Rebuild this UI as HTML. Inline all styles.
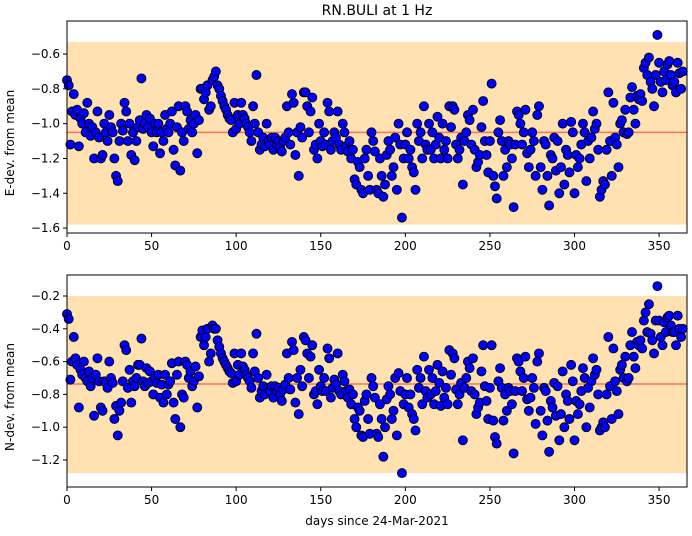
<!DOCTYPE html>
<html><head><meta charset="utf-8"><style>
body{margin:0;background:#fff}
svg text{font-family:"DejaVu Sans","Liberation Sans",sans-serif;font-size:12px;fill:#000}
</style></head><body>
<svg id="c" width="692" height="531" xmlns="http://www.w3.org/2000/svg">
<text x="377" y="15" text-anchor="middle" style="font-size:14px">RN.BULI at 1 Hz</text>
<text transform="translate(14,143) rotate(-90)" text-anchor="middle">E-dev. from mean</text>
<text transform="translate(14,397) rotate(-90)" text-anchor="middle">N-dev. from mean</text>
<text x="377" y="525" text-anchor="middle">days since 24-Mar-2021</text>
</svg>
<script>
const xTicks=[0,50,100,150,200,250,300,350];
const eTicks=[-1.6,-1.4,-1.2,-1.0,-0.8,-0.6];
const nTicks=[-1.2,-1.0,-0.8,-0.6,-0.4,-0.2];
const eMean=-1.05, eBand=[-1.58,-0.53];
const nMean=-0.737, nBand=[-1.28,-0.2];
const eVals=[-0.75,-0.78,-1.12,-0.93,-0.83,-0.95,-0.92,-1.13,-0.97,-1.0,
-0.94,-1.05,-0.88,-1.0,-1.07,-1.02,-1.2,-1.05,-0.93,-1.08,
-1.2,-1.18,-1.0,-1.05,-1.1,-0.95,-1.02,-1.05,-1.2,-1.3,
-1.33,-1.1,-1.0,-1.04,-0.88,-0.93,-1.1,-1.0,-1.18,-1.05,
-1.21,-1.1,-1.02,-0.98,-0.74,-1.03,-1.0,-0.95,-1.02,-0.97,
-1.05,-1.13,-1.0,-1.05,-1.0,-1.17,-1.05,-1.1,-0.95,-1.03,
-1.05,-1.0,-0.93,-1.15,-1.24,-1.02,-0.9,-1.27,-1.05,-1.1,
-0.9,-0.93,-1.03,-0.98,-1.05,-1.0,-0.95,-1.17,-0.98,-0.8,
-0.8,-0.86,-0.82,-0.78,-0.92,-0.9,-0.75,-0.73,-0.7,-0.78,
-0.8,-0.84,-0.87,-0.9,-0.92,-0.95,-0.97,-0.98,-1.05,-0.88,
-1.03,-0.95,-1.0,-0.88,-0.95,-0.97,-1.0,-1.02,-1.05,-1.1,
-0.9,-1.0,-0.72,-1.05,-1.15,-1.12,-1.08,-1.13,-1.0,-1.1,
-1.12,-1.08,-1.15,-1.08,-1.12,-1.1,-1.14,-1.16,-1.1,-1.08,
-0.9,-1.05,-1.12,-0.83,-0.88,-1.18,-1.05,-1.3,-1.02,-1.08,
-0.82,-0.82,-0.9,-1.05,-0.93,-0.85,-1.15,-1.12,-1.2,-1.0,
-1.1,-1.13,-1.05,-1.12,-0.88,-0.93,-1.15,-1.1,-1.05,-1.08,
-0.93,-1.12,-1.15,-1.0,-1.05,-1.13,-1.16,-1.1,-1.2,-1.15,
-1.32,-1.35,-1.22,-1.25,-1.38,-1.4,-1.2,-1.15,-1.3,-1.38,
-1.05,-1.1,-1.16,-1.38,-1.4,-1.2,-1.3,-1.42,-1.35,-1.18,
-1.1,-1.15,-1.3,-1.25,-1.08,-1.38,-1.0,-1.12,-1.54,-1.2,
-1.12,-1.05,-1.2,-1.15,-1.25,-1.28,-1.38,-1.0,-1.1,-1.05,
-1.2,-0.9,-1.12,-1.15,-1.0,-1.15,-1.05,-1.2,-1.12,-0.96,
-1.08,-1.2,-1.0,-1.15,-1.1,-1.2,-0.9,-1.02,-0.9,-0.92,
-1.12,-1.2,-1.15,-1.08,-1.35,-1.1,-1.05,-0.95,-0.98,-1.12,
-0.92,-1.15,-1.25,-1.22,-1.18,-1.02,-0.87,-1.1,-1.18,-1.28,
-1.1,-0.77,-1.3,-1.36,-1.43,-1.05,-0.98,-1.1,-1.3,-1.15,
-1.25,-1.1,-1.12,-1.2,-1.48,-1.12,-0.93,-0.95,-1.0,-1.12,
-1.05,-0.92,-1.17,-1.25,-1.15,-1.05,-1.1,-1.3,-0.95,-0.9,
-1.25,-1.38,-1.1,-1.12,-1.3,-1.47,-1.18,-1.2,-1.08,-1.27,
-1.1,-1.4,-1.25,-1.0,-1.35,-1.15,-1.18,-1.28,-0.99,-1.05,
-1.4,-1.18,-1.25,-1.2,-1.12,-1.0,-1.05,-1.33,-1.1,-1.2,
-1.08,-0.93,-1.03,-1.0,-1.15,-1.42,-1.38,-1.33,-1.35,-1.15,
-0.82,-1.1,-1.3,-0.88,-1.08,-1.12,-1.25,-1.0,-0.98,-1.05,
-0.92,-1.06,-1.05,-0.85,-0.79,-0.92,-1.0,-0.84,-0.86,-0.83,
-0.87,-0.68,-0.65,-0.72,-0.62,-0.76,-0.8,-0.9,-0.72,-0.49,
-0.65,-0.76,-0.82,-0.7,-0.75,-0.66,-0.64,-0.72,-0.78,-0.76,
-0.82,-0.65,-0.71,-0.8,-0.7];
const nVals=[-0.31,-0.34,-0.71,-0.6,-0.45,-0.58,-0.62,-0.88,-0.65,-0.68,
-0.6,-0.7,-0.72,-0.66,-0.75,-0.7,-0.93,-0.68,-0.58,-0.72,
-0.88,-0.9,-0.72,-0.73,-0.76,-0.6,-0.7,-0.73,-0.95,-0.87,
-1.05,-0.9,-0.85,-0.72,-0.5,-0.53,-0.76,-0.65,-0.85,-0.72,
-0.75,-0.7,-0.62,-0.62,-0.46,-0.72,-0.75,-0.64,-0.73,-0.66,
-0.72,-0.8,-0.7,-0.73,-0.68,-0.82,-0.74,-0.85,-0.68,-0.8,
-0.74,-0.72,-0.61,-0.85,-0.95,-0.68,-0.6,-1.0,-0.8,-0.82,
-0.6,-0.62,-0.7,-0.66,-0.75,-0.72,-0.63,-0.88,-0.69,-0.45,
-0.41,-0.5,-0.45,-0.4,-0.6,-0.55,-0.38,-0.4,-0.4,-0.47,
-0.51,-0.55,-0.58,-0.6,-0.62,-0.64,-0.66,-0.67,-0.73,-0.55,
-0.72,-0.62,-0.68,-0.55,-0.63,-0.65,-0.68,-0.7,-0.72,-0.76,
-0.55,-0.66,-0.43,-0.7,-0.82,-0.78,-0.75,-0.8,-0.68,-0.76,
-0.78,-0.75,-0.82,-0.75,-0.78,-0.76,-0.8,-0.84,-0.77,-0.74,
-0.55,-0.7,-0.77,-0.48,-0.53,-0.85,-0.7,-0.92,-0.65,-0.75,
-0.45,-0.47,-0.55,-0.7,-0.57,-0.5,-0.8,-0.78,-0.86,-0.65,
-0.75,-0.78,-0.7,-0.78,-0.52,-0.58,-0.82,-0.76,-0.71,-0.74,
-0.55,-0.78,-0.8,-0.68,-0.72,-0.78,-0.82,-0.77,-0.86,-0.8,
-0.95,-1.0,-0.88,-0.9,-1.05,-1.06,-0.84,-0.8,-0.95,-1.04,
-0.7,-0.75,-0.82,-1.04,-1.06,-0.86,-0.95,-1.18,-1.0,-0.83,
-0.75,-0.8,-0.95,-0.9,-0.7,-1.05,-0.67,-0.78,-1.28,-0.86,
-0.8,-0.7,-0.88,-0.8,-0.92,-0.95,-1.02,-0.65,-0.76,-0.7,
-0.86,-0.57,-0.78,-0.82,-0.65,-0.8,-0.7,-0.86,-0.78,-0.62,
-0.73,-0.87,-0.66,-0.82,-0.76,-0.86,-0.53,-0.68,-0.55,-0.58,
-0.77,-0.86,-0.8,-0.73,-1.08,-0.76,-0.7,-0.6,-0.64,-0.78,
-0.58,-0.8,-0.92,-0.88,-0.85,-0.66,-0.5,-0.75,-0.84,-0.95,
-0.76,-0.5,-0.96,-1.06,-1.1,-0.72,-0.64,-0.76,-0.96,-0.8,
-0.9,-0.76,-0.78,-0.86,-1.16,-0.78,-0.58,-0.6,-0.66,-0.78,
-0.7,-0.57,-0.83,-0.9,-0.82,-0.7,-0.76,-0.98,-0.6,-0.55,
-0.9,-1.05,-0.76,-0.78,-0.96,-1.15,-0.84,-0.88,-0.73,-0.93,
-0.75,-1.08,-0.92,-0.66,-1.0,-0.8,-0.84,-0.95,-0.62,-0.72,
-1.08,-0.84,-0.92,-0.86,-0.78,-0.64,-0.7,-1.0,-0.76,-0.88,
-0.72,-0.58,-0.68,-0.65,-0.8,-1.02,-1.0,-0.97,-1.0,-0.8,
-0.45,-0.75,-0.95,-0.52,-0.72,-0.78,-0.92,-0.65,-0.62,-0.7,
-0.57,-0.72,-0.7,-0.5,-0.42,-0.57,-0.64,-0.48,-0.5,-0.47,
-0.52,-0.35,-0.3,-0.42,-0.25,-0.43,-0.47,-0.55,-0.35,-0.14,
-0.35,-0.45,-0.5,-0.36,-0.42,-0.33,-0.32,-0.38,-0.42,-0.42,
-0.5,-0.32,-0.4,-0.45,-0.4];

const NS='http://www.w3.org/2000/svg';
const svg=document.getElementById('c');
function mk(tag,attrs,parent){const e=document.createElementNS(NS,tag);for(const k in attrs)e.setAttribute(k,attrs[k]);(parent||svg).appendChild(e);return e;}
const L=67,R=687;
function X(d){return L+d*(R-L)/366.5;}
function panel(top,bot,v0,vTop,pxPerUnit,ticks,band,mean,vals,prefix){
  function Y(v){return top+(vTop-v)*pxPerUnit;}
  const g=mk('g',{});
  
  
  const b=mk('rect',{x:L,y:Y(band[1]),width:R-L,height:Y(band[0])-Y(band[1]),fill:'#ffe1b2'},g);
  
  
  const m=mk('line',{x1:L,x2:R,y1:Y(mean),y2:Y(mean),stroke:'#ff6f5f','stroke-width':1.5},g);
  
  
  vals.forEach((v,i)=>{
    const c=mk('circle',{cx:X(i),cy:Y(v),r:4.5,fill:'#0000ff',stroke:'#000','stroke-width':0.9},g);
    
    
  });
  const f=mk('rect',{x:L,y:top,width:R-L,height:bot-top,fill:'none',stroke:'#000','stroke-width':1},g);
  
  
  xTicks.forEach(t=>{
    mk('line',{x1:X(t),x2:X(t),y1:bot,y2:bot+4,stroke:'#000'},g);
    const tx=mk('text',{x:X(t),y:bot+17,'text-anchor':'middle'},g);
    tx.textContent=t;
    
    
  });
  ticks.forEach(t=>{
    mk('line',{x1:L-4,x2:L,y1:Y(t),y2:Y(t),stroke:'#000'},g);
    const tx=mk('text',{x:L-7,y:Y(t)+4,'text-anchor':'end'},g);
    tx.textContent=(t<0?'\u2212':'')+Math.abs(t).toFixed(1);
    
    
  });
}
panel(21,233,0,-0.41,174,eTicks,eBand,eMean,eVals,'east');
panel(275,487,0,-0.072,164,nTicks,nBand,nMean,nVals,'north');
</script>
</body></html>
